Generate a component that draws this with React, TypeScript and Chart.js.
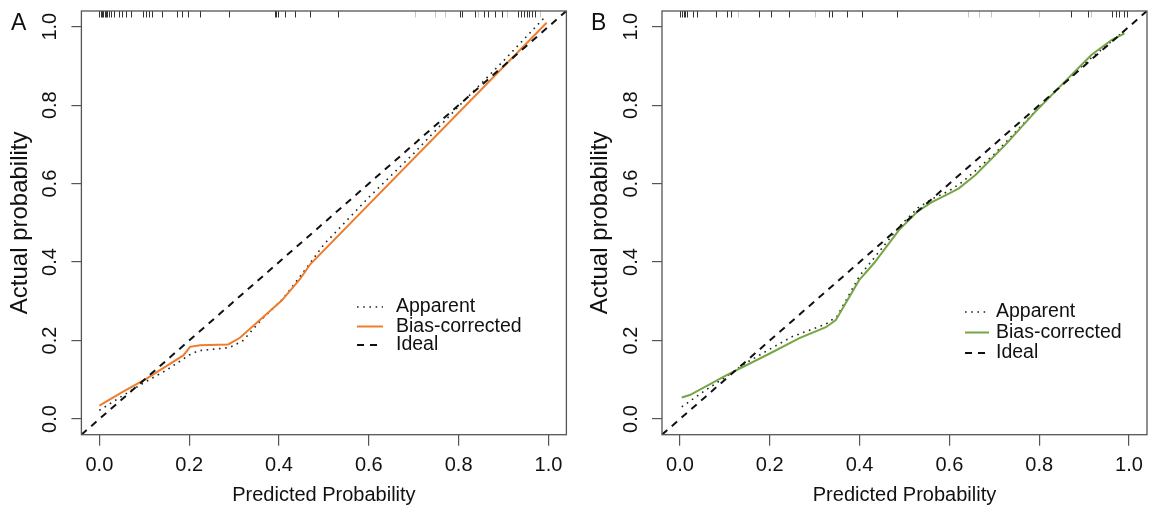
import React, { useEffect, useRef } from "react";
import { Chart, registerables } from "chart.js";

Chart.register(...registerables);

const FONT = "'Liberation Sans', Arial, Helvetica, sans-serif";

// ---- shared axis data ----
const xTickValues = [0, 0.2, 0.4, 0.6, 0.8, 1.0];
const yTickValues = [0, 0.2, 0.4, 0.6, 0.8, 1.0];
const axisMin = -0.04;
const axisMax = 1.04;
const idealX = [-0.04, 1.04];
const idealY = [-0.04, 1.04];
const legendLabels = ["Apparent", "Bias-corrected", "Ideal"];

// ---- panel A ----
const apparentAX = [0.0, 0.05, 0.1, 0.15, 0.2, 0.22, 0.29, 0.32, 0.36, 0.41, 0.45, 0.5, 0.6, 0.7, 0.8, 0.9, 0.99];
const apparentAY = [0.022, 0.058, 0.093, 0.125, 0.163, 0.174, 0.182, 0.2, 0.252, 0.308, 0.368, 0.445, 0.565, 0.677, 0.797, 0.913, 1.022];
const biasAX = [0.0, 0.05, 0.105, 0.187, 0.202, 0.224, 0.287, 0.313, 0.358, 0.406, 0.447, 0.47, 0.996];
const biasAY = [0.034, 0.068, 0.103, 0.162, 0.184, 0.188, 0.19, 0.207, 0.253, 0.302, 0.357, 0.395, 1.01];
const rugA = [0.0, 0.003, 0.006, 0.009, 0.012, 0.015, 0.018, 0.021, 0.027, 0.033, 0.044, 0.051, 0.059, 0.07, 0.098, 0.104, 0.11, 0.118, 0.14, 0.172, 0.183, 0.198, 0.224, 0.289, 0.39, 0.393, 0.397, 0.413, 0.436, 0.469, 0.532, 0.803, 0.807, 0.837, 0.857, 0.866, 0.881, 0.896, 0.933, 0.94, 0.946, 0.952, 0.957, 0.963, 0.97];
const rugALight = [0.703, 0.747, 0.77, 0.844, 0.907, 0.981];

// ---- panel B ----
const apparentBX = [0.004, 0.05, 0.1, 0.15, 0.2, 0.25, 0.325, 0.35, 0.4, 0.432, 0.488, 0.53, 0.56, 0.6, 0.63, 0.7, 0.8, 0.9, 0.99];
const apparentBY = [0.031, 0.068, 0.106, 0.145, 0.178, 0.21, 0.242, 0.262, 0.365, 0.41, 0.49, 0.538, 0.56, 0.582, 0.605, 0.675, 0.795, 0.905, 0.99];
const biasBX = [0.004, 0.022, 0.104, 0.2, 0.266, 0.325, 0.347, 0.399, 0.432, 0.488, 0.53, 0.56, 0.6, 0.621, 0.658, 0.724, 0.791, 0.857, 0.916, 0.961, 0.99];
const biasBY = [0.055, 0.061, 0.112, 0.167, 0.206, 0.234, 0.252, 0.354, 0.397, 0.482, 0.53, 0.552, 0.575, 0.588, 0.622, 0.698, 0.783, 0.86, 0.928, 0.966, 0.983];
const rugB = [0.0, 0.004, 0.008, 0.012, 0.016, 0.03, 0.039, 0.081, 0.104, 0.113, 0.176, 0.202, 0.242, 0.331, 0.339, 0.372, 0.405, 0.483, 0.871, 0.908, 0.963, 0.97, 0.978, 0.989, 0.996];
const rugBLight = [0.13, 0.3, 0.642, 0.667, 0.693, 0.8, 0.916];

const toPts = (xs: number[], ys: number[]) => xs.map((x, i) => ({ x, y: ys[i] }));

type PanelCfg = {
  letter: string;
  color: string;
  appX: number[];
  appY: number[];
  biasX: number[];
  biasY: number[];
  rug: number[];
  rugLight: number[];
  left: number;
  width: number;
  yAxisWidth: number;
  padRight: number;
  legendX: number;
  legendW: number;
  legendTextX: number;
  legendRows: number[];
};

const panels: PanelCfg[] = [
  {
    letter: "A", color: "#EE7D2E",
    appX: apparentAX, appY: apparentAY, biasX: biasAX, biasY: biasAY,
    rug: rugA, rugLight: rugALight,
    left: 0, width: 576, yAxisWidth: 81.4, padRight: 9.6,
    legendX: 357, legendW: 26, legendTextX: 396, legendRows: [307, 326.5, 345],
  },
  {
    letter: "B", color: "#76A544",
    appX: apparentBX, appY: apparentBY, biasX: biasBX, biasY: biasBY,
    rug: rugB, rugLight: rugBLight,
    left: 580, width: 571, yAxisWidth: 82, padRight: 2,
    legendX: 385, legendW: 24, legendTextX: 416, legendRows: [312, 332.5, 353],
  },
];

const DOT = [1.6, 4.6];
const DASH = [7, 6];

function Panel({ cfg }: { cfg: PanelCfg }) {
  const ref = useRef<HTMLCanvasElement | null>(null);
  useEffect(() => {
    if (!ref.current) return;
    const overlay = {
      id: "overlay",
      afterDraw(chart: any) {
        const { ctx, chartArea: a, scales } = chart;
        const x = scales.x;
        const y = scales.y;
        ctx.save();
        // rug
        ctx.lineWidth = 1;
        const drawRug = (vals: number[], col: string) => {
          ctx.strokeStyle = col;
          vals.forEach((v) => {
            const px = Math.round(x.getPixelForValue(v)) + 0.5;
            ctx.beginPath();
            ctx.moveTo(px, a.top);
            ctx.lineTo(px, a.top + 6.5);
            ctx.stroke();
          });
        };
        drawRug(cfg.rugLight, "#c4c4c4");
        drawRug(cfg.rug, "#333");
        // box
        ctx.strokeStyle = "#555";
        ctx.lineWidth = 1.3;
        ctx.strokeRect(a.left, a.top, a.right - a.left, a.bottom - a.top);
        // y tick labels (rotated as in R)
        ctx.font = `20px ${FONT}`;
        ctx.fillStyle = "#111";
        ctx.textAlign = "center";
        ctx.textBaseline = "alphabetic";
        yTickValues.forEach((v) => {
          const py = y.getPixelForValue(v);
          ctx.save();
          ctx.translate(a.left - 25.4, py);
          ctx.rotate(-Math.PI / 2);
          ctx.fillText(v.toFixed(1), 0, 0);
          ctx.restore();
        });
        // panel letter
        ctx.font = `23px ${FONT}`;
        ctx.textAlign = "left";
        ctx.fillText(cfg.letter, 11, 30);
        // legend
        const lx = cfg.legendX;
        const lw = cfg.legendW;
        const rows = cfg.legendRows;
        const styles = [
          { color: "#222", width: 1.6, dash: DOT },
          { color: cfg.color, width: 2, dash: [] as number[] },
          { color: "#111", width: 2, dash: DASH },
        ];
        styles.forEach((s, i) => {
          ctx.strokeStyle = s.color;
          ctx.lineWidth = s.width;
          ctx.setLineDash(s.dash);
          ctx.beginPath();
          ctx.moveTo(lx, rows[i]);
          ctx.lineTo(lx + lw, rows[i]);
          ctx.stroke();
        });
        ctx.setLineDash([]);
        ctx.font = `19.5px ${FONT}`;
        ctx.fillStyle = "#111";
        ctx.textBaseline = "middle";
        legendLabels.forEach((t, i) => ctx.fillText(t, cfg.legendTextX, rows[i]));
        ctx.restore();
      },
    };

    const chart = new Chart(ref.current, {
      type: "line",
      data: {
        datasets: [
          {
            label: "Ideal",
            data: toPts(idealX, idealY),
            borderColor: "#111",
            borderWidth: 2,
            borderDash: DASH,
            pointRadius: 0,
            tension: 0,
          },
          {
            label: "Bias-corrected",
            data: toPts(cfg.biasX, cfg.biasY),
            borderColor: cfg.color,
            borderWidth: 2,
            pointRadius: 0,
            tension: 0,
          },
          {
            label: "Apparent",
            data: toPts(cfg.appX, cfg.appY),
            borderColor: "#222",
            borderWidth: 1.6,
            borderDash: DOT,
            pointRadius: 0,
            tension: 0,
          },
        ],
      },
      options: {
        responsive: false,
        animation: false,
        devicePixelRatio: 1,
        layout: { padding: { top: 11, right: cfg.padRight, left: 0, bottom: 0 } },
        plugins: { legend: { display: false }, tooltip: { enabled: false } },
        scales: {
          x: {
            type: "linear",
            min: axisMin,
            max: axisMax,
            afterBuildTicks: (s: any) => {
              s.ticks = xTickValues.map((v) => ({ value: v }));
            },
            afterFit: (s: any) => {
              s.height = 75.3;
            },
            border: { display: false },
            grid: { drawOnChartArea: false, drawTicks: true, tickLength: 11, color: "#555", lineWidth: 1.2 },
            ticks: {
              font: { family: FONT, size: 20 },
              color: "#111",
              padding: 8,
              maxRotation: 0,
              autoSkip: false,
              callback: (v: any) => Number(v).toFixed(1),
            },
            title: {
              display: true,
              text: "Predicted Probability",
              font: { family: FONT, size: 20 },
              color: "#111",
              padding: { top: 0, bottom: 3 },
            },
          },
          y: {
            type: "linear",
            min: axisMin,
            max: axisMax,
            afterBuildTicks: (s: any) => {
              s.ticks = yTickValues.map((v) => ({ value: v }));
            },
            afterFit: (s: any) => {
              s.width = cfg.yAxisWidth;
            },
            border: { display: false },
            grid: { drawOnChartArea: false, drawTicks: true, tickLength: 10, color: "#555", lineWidth: 1.2 },
            ticks: { display: false },
            title: {
              display: true,
              text: "Actual probability",
              font: { family: FONT, size: 24 },
              color: "#111",
              padding: { top: 5.5, bottom: 0 },
            },
          },
        },
      } as any,
      plugins: [overlay],
    });
    return () => chart.destroy();
  }, [cfg]);

  return (
    <canvas
      ref={ref}
      width={cfg.width}
      height={510}
      style={{ position: "absolute", left: cfg.left, top: 0, width: cfg.width, height: 510 }}
    />
  );
}

export default function App() {
  return (
    <div style={{ position: "absolute", left: 0, top: 0, width: 1151, height: 510, background: "#fff" }}>
      {panels.map((p) => (
        <Panel key={p.letter} cfg={p} />
      ))}
    </div>
  );
}
